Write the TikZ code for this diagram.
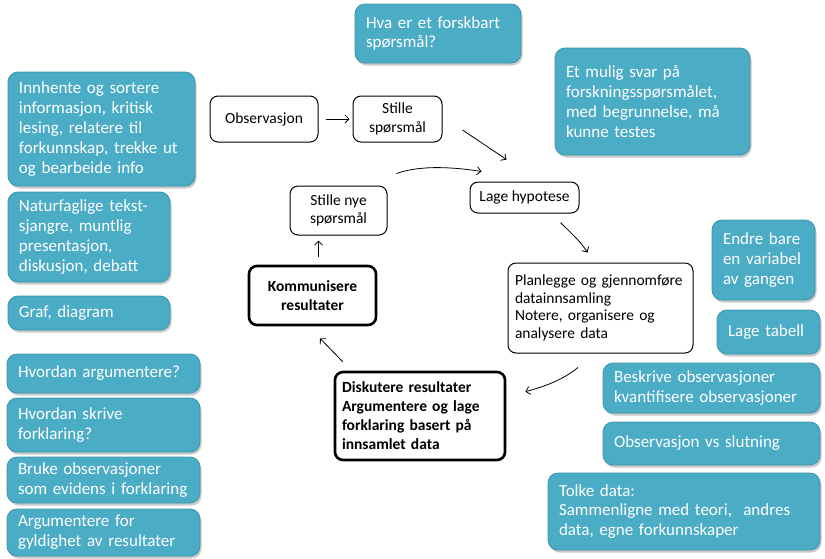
\documentclass[tikz,border=0pt]{standalone}
\usepackage{fontspec}
\setmainfont{Carlito}
\usetikzlibrary{arrows.meta,shadows}
\hyphenpenalty=10000
\exhyphenpenalty=10000
\definecolor{teal1}{HTML}{4BACC6}
\definecolor{teal2}{HTML}{3B93AB}
\tikzset{
  tbox/.style={draw=teal2, line width=0.8pt, fill=teal1, rounded corners=10pt, text=white,
    font=\fontsize{17}{19.8}\selectfont, align=left, inner xsep=11pt, inner ysep=2pt,
    drop shadow={shadow xshift=1.5pt, shadow yshift=-2.5pt, opacity=0.35, fill=black!60}},
  wbox/.style={draw=black, line width=1pt, fill=white, rounded corners=8pt,
    font=\fontsize{15.5}{18.5}\selectfont, align=center, inner sep=2pt},
  bbox/.style={wbox, line width=2.6pt, font=\bfseries\fontsize{15.5}{19}\selectfont},
  arr/.style={draw=black, line width=0.8pt, -{Straight Barb[length=4pt,width=8pt]}}
}
\newcommand{\tb}[6]{\node[tbox, minimum width=#3, minimum height=#4, text width=#3-22pt] (#5) at (#1,#2) {#6};}
\begin{document}
\begin{tikzpicture}[x=1pt,y=-1pt]
\useasboundingbox (0,0) rectangle (825,558);
% teal boxes
\tb{438}{33.5}{166pt}{59pt}{hva}{Hva er et forskbart\\spørsmål?}
\tb{101.5}{129}{187pt}{114pt}{innh}{Innhente og sortere\\informasjon, kritisk\\lesing, relatere til\\forkunnskap, trekke ut\\og bearbeide info}
\tb{89}{237}{162pt}{90pt}{natur}{Naturfaglige tekst-\\sjangre, muntlig\\presentasjon,\\diskusjon, debatt}
\tb{89}{313}{162pt}{34pt}{graf}{Graf, diagram}
\tb{103.5}{373.5}{193pt}{39pt}{hvarg}{Hvordan argumentere?}
\tb{103.5}{425}{193pt}{54pt}{hvskr}{Hvordan skrive\\forklaring?}
\tb{103.5}{480}{193pt}{46pt}{bruke}{Bruke observasjoner\\som evidens i forklaring}
\tb{103.5}{532.5}{193pt}{47pt}{argf}{Argumentere for\\gyldighet av resultater}
\tb{652.5}{101.5}{195pt}{107pt}{mulig}{Et mulig svar på\\forskningsspørsmålet,\\med begrunnelse, må\\kunne testes}
\tb{763.5}{260}{103pt}{80pt}{endre}{Endre bare\\en variabel\\av gangen}
\tb{768.5}{332}{103pt}{44pt}{tabell}{Lage tabell}
\tb{711.5}{388}{217pt}{50pt}{beskr}{Beskrive observasjoner\\kvantifisere observasjoner}
\tb{711.5}{443.5}{217pt}{43pt}{obsvs}{Observasjon vs slutning}
\tb{684}{511.5}{272pt}{77pt}{tolke}{Tolke data:\\Sammenligne med teori,~ andres\\data, egne forkunnskaper}
% white boxes
\node[wbox, minimum width=108pt, minimum height=46pt] (obs) at (264,119) {Observasjon};
\node[wbox, minimum width=89pt, minimum height=46pt] (stil) at (397.5,119) {Stille\\spørsmål};
\node[wbox, minimum width=97pt, minimum height=49pt] (nye) at (338.5,210.5) {Stille nye\\spørsmål};
\node[wbox, minimum width=109pt, minimum height=31pt] (hyp) at (524.5,197.5) {Lage hypotese};
\node[bbox, minimum width=127pt, minimum height=59pt] (komm) at (312.5,295.5) {Kommunisere\\resultater};
\node[wbox, minimum width=185pt, minimum height=90pt, align=left, text width=171pt, font=\fontsize{15.5}{17.5}\selectfont] (plan) at (600.5,308) {Planlegge og gjennomføre\\datainnsamling\\Notere, organisere og\\analysere data};
\node[bbox, minimum width=170pt, minimum height=88pt, align=left, text width=156pt] (disk) at (420,416) {Diskutere resultater\\Argumentere og lage\\forklaring basert på\\innsamlet data};
% arrows
\draw[arr, shorten <=7pt, shorten >=3pt] (obs) -- (stil);
\draw[arr] ([shift={(20,11)}]stil.east) -- ([shift={(-18,-22)}]hyp.north);
\draw[arr] ([shift={(9,-12)}]nye.north east) .. controls +(25,-9) and +(-25,-4) .. ([shift={(12,-10)}]hyp.north west);
\draw[arr] ([shift={(-19,9)}]hyp.south east) .. controls +(10,10) and +(-6,-10) .. ([shift={(-13,-10)}]plan.north);
\draw[arr] ([shift={(-22.5,14)}]plan.south) .. controls +(-15,12) and +(22,-6) .. ([shift={(19,21)}]disk.north east);
\draw[arr] ([shift={(9,-9)}]disk.north west) -- ([shift={(7.5,12)}]komm.south);
\draw[arr] ([shift={(6,-8)}]komm.north) -- ([shift={(-20,5)}]nye.south);
\end{tikzpicture}
\end{document}
